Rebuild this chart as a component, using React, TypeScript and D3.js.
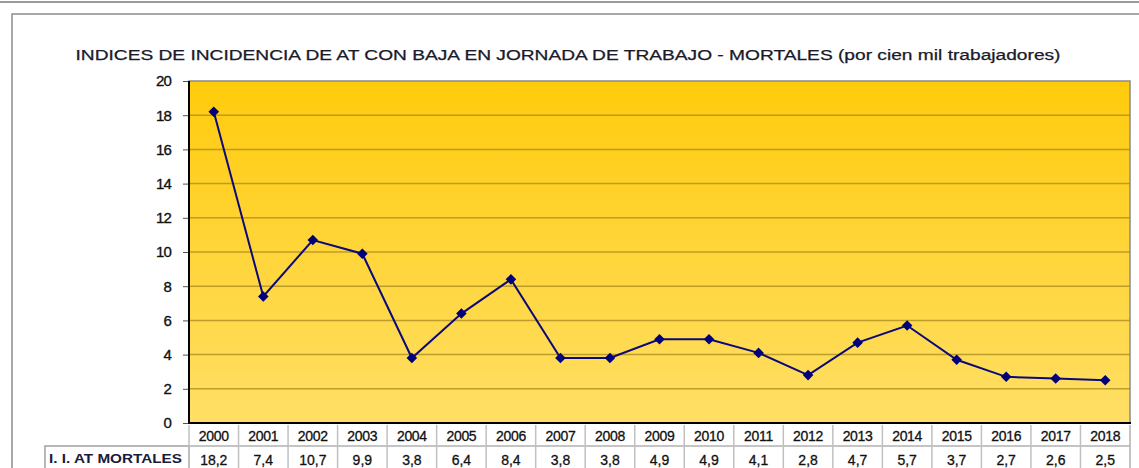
import { useEffect, useRef } from 'react';
import * as d3 from 'd3';

const years = ['2000', '2001', '2002', '2003', '2004', '2005', '2006', '2007', '2008', '2009',
  '2010', '2011', '2012', '2013', '2014', '2015', '2016', '2017', '2018'];
const mortales = [18.2, 7.4, 10.7, 9.9, 3.8, 6.4, 8.4, 3.8, 3.8, 4.9, 4.9, 4.1, 2.8, 4.7, 5.7, 3.7, 2.7, 2.6, 2.5];
const yTicks = [0, 2, 4, 6, 8, 10, 12, 14, 16, 18, 20];
const seriesLabel = 'I. I. AT MORTALES';
const title = 'INDICES DE INCIDENCIA DE AT CON BAJA EN JORNADA DE TRABAJO - MORTALES (por cien mil trabajadores)';

const W = 1139;
const H = 468;
const FONT = '"Liberation Sans", Arial, sans-serif';

export default function App() {
  const svgRef = useRef<SVGSVGElement>(null);

  useEffect(() => {
    if (!svgRef.current) return;
    const svg = d3.select(svgRef.current);
    svg.selectAll('*').remove();

    const left = 189, right = 1130, top = 81, bottom = 423;

    const x = d3.scaleBand<string>().domain(years).range([left, right]);
    const y = d3.scaleLinear().domain([0, 20]).range([bottom, top]);

    // frame bits
    svg.append('line').attr('x1', 0).attr('x2', W).attr('y1', 2).attr('y2', 2)
      .attr('stroke', '#9a9a9a').attr('stroke-width', 2);
    svg.append('rect').attr('x', 12).attr('y', 14).attr('width', W + 10).attr('height', H)
      .attr('fill', 'white').attr('stroke', '#8c8c8c').attr('stroke-width', 1.5);

    const defs = svg.append('defs');
    const grad = defs.append('linearGradient').attr('id', 'bg').attr('x1', 0).attr('x2', 0).attr('y1', 0).attr('y2', 1);
    grad.append('stop').attr('offset', '0%').attr('stop-color', '#FFCB0C');
    grad.append('stop').attr('offset', '100%').attr('stop-color', '#FFDF66');

    svg.append('text')
      .attr('x', 568).attr('y', 60)
      .attr('text-anchor', 'middle')
      .attr('font-family', FONT).attr('font-size', 14)
      .attr('fill', '#1a1a2a').attr('stroke', '#1a1a2a').attr('stroke-width', 0.25)
      .attr('textLength', 985).attr('lengthAdjust', 'spacingAndGlyphs')
      .text(title);

    svg.append('rect')
      .attr('x', left).attr('y', top).attr('width', right - left).attr('height', bottom - top)
      .attr('fill', 'url(#bg)').attr('stroke', '#8a8a8a').attr('stroke-width', 1.5);

    svg.append('g').selectAll('line')
      .data(yTicks.filter(t => t > 0 && t < 20))
      .join('line')
      .attr('x1', left).attr('x2', right)
      .attr('y1', d => y(d)).attr('y2', d => y(d))
      .attr('stroke', '#A88A1E').attr('stroke-opacity', 0.75).attr('stroke-width', 1.5);

    // axes
    const yAxis = svg.append('g').attr('transform', `translate(${left},0)`)
      .call(d3.axisLeft(y).tickValues(yTicks).tickSize(6).tickPadding(12).tickFormat(d3.format('d')));
    yAxis.select('.domain').remove();
    yAxis.selectAll('.tick line').attr('stroke', '#555');
    yAxis.selectAll('.tick text').attr('font-family', FONT).attr('font-size', 15)
      .attr('fill', '#111').attr('stroke', '#111').attr('stroke-width', 0.35).attr('letter-spacing', -0.8);

    svg.append('line').attr('x1', left).attr('x2', left).attr('y1', top).attr('y2', bottom + 1)
      .attr('stroke', '#000').attr('stroke-width', 2);
    svg.append('line').attr('x1', left).attr('x2', right + 1).attr('y1', bottom).attr('y2', bottom)
      .attr('stroke', '#000').attr('stroke-width', 2);

    const cx = (d: string) => (x(d) ?? 0) + x.bandwidth() / 2;

    const line = d3.line<number>().x((d, i) => cx(years[i])).y(d => y(d));
    svg.append('path').datum(mortales)
      .attr('d', line)
      .attr('fill', 'none').attr('stroke', '#0a0a78').attr('stroke-width', 2);

    svg.append('g').selectAll('path')
      .data(mortales)
      .join('path')
      .attr('d', d3.symbol().type(d3.symbolSquare).size(56))
      .attr('transform', (d, i) => `translate(${cx(years[i])},${y(d)}) rotate(45)`)
      .attr('fill', '#00007a');

    // data table
    const row1Top = 425, row1Bottom = 446, row2Bottom = 470;
    const table = svg.append('g');
    table.append('rect').attr('x', 45).attr('y', row1Bottom).attr('width', left - 45).attr('height', row2Bottom - row1Bottom)
      .attr('fill', 'none').attr('stroke', '#a0a0a0').attr('stroke-width', 1.5);
    table.append('line').attr('x1', left).attr('x2', right).attr('y1', row1Bottom).attr('y2', row1Bottom)
      .attr('stroke', '#b0b0b0').attr('stroke-width', 1.5);
    table.append('line').attr('x1', right).attr('x2', right).attr('y1', row1Top).attr('y2', row2Bottom)
      .attr('stroke', '#b0b0b0').attr('stroke-width', 1.5);
    table.selectAll('line.sep')
      .data(years)
      .join('line')
      .attr('class', 'sep')
      .attr('x1', d => x(d) ?? 0).attr('x2', d => x(d) ?? 0)
      .attr('y1', row1Top).attr('y2', row2Bottom)
      .attr('stroke', '#c0c0c0').attr('stroke-width', 1.5);

    table.selectAll('text.yr')
      .data(years)
      .join('text')
      .attr('class', 'yr')
      .attr('x', d => cx(d)).attr('y', 441)
      .attr('text-anchor', 'middle')
      .attr('font-family', FONT).attr('font-size', 14).attr('letter-spacing', -0.3)
      .attr('fill', '#111').attr('stroke', '#111').attr('stroke-width', 0.3)
      .text(d => d);

    table.selectAll('text.val')
      .data(mortales)
      .join('text')
      .attr('class', 'val')
      .attr('x', (d, i) => cx(years[i])).attr('y', 465)
      .attr('text-anchor', 'middle')
      .attr('font-family', FONT).attr('font-size', 14)
      .attr('fill', '#111').attr('stroke', '#111').attr('stroke-width', 0.3)
      .text(d => d.toFixed(1).replace('.', ','));

    table.append('text')
      .attr('x', 49).attr('y', 463)
      .attr('font-family', FONT).attr('font-size', 12).attr('font-weight', 'bold')
      .attr('fill', '#1a1a3a')
      .attr('textLength', 133).attr('lengthAdjust', 'spacingAndGlyphs')
      .text(seriesLabel);
  }, []);

  return (
    <div style={{ position: 'absolute', left: 0, top: 0, width: W, height: H, background: 'white', overflow: 'hidden' }}>
      <svg ref={svgRef} width={W} height={H} />
    </div>
  );
}
